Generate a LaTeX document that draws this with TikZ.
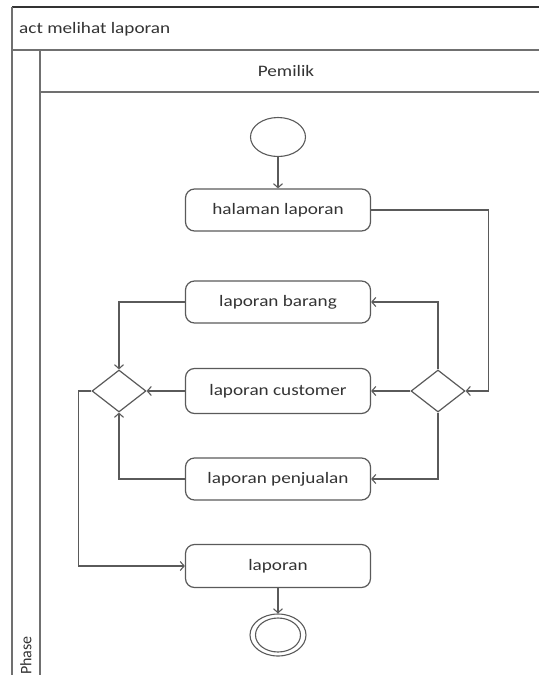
\documentclass[tikz,border=0pt]{standalone}
\usepackage{fontspec}
\setmainfont[FakeStretch=1.2]{Carlito}
\newfontfamily\phasefont{Carlito}
\usetikzlibrary{arrows.meta,shapes.geometric}
\definecolor{linec}{HTML}{5A5A5A}
\definecolor{framec}{HTML}{707070}
\definecolor{textc}{HTML}{333333}
\tikzset{
  actbox/.style={draw=linec, line width=1.2pt, rounded corners=9pt, minimum width=185pt, minimum height=42pt, text=textc, font=\fontsize{16}{19}\selectfont, inner sep=0pt},
  decis/.style={draw=linec, line width=1.2pt, diamond, minimum width=54pt, minimum height=42pt, inner sep=0pt},
  arr/.style={draw=linec, line width=1.1pt, -{Straight Barb[length=4pt,width=9pt]}},
  frameline/.style={draw=framec, line width=1.4pt},
  lbl/.style={text=textc, font=\fontsize{16}{19}\selectfont, inner sep=0pt}
}
\begin{document}
\begin{tikzpicture}[x=1pt,y=-1pt]
\useasboundingbox (0,0) rectangle (539,675);
% frame
\draw[line width=1.5pt, draw=textc] (12,7) -- (539,7);
\draw[frameline] (12,7) -- (12,676);
\draw[frameline] (12,50) -- (539,50);
\draw[frameline] (40,50) -- (40,676);
\draw[frameline] (40,92) -- (539,92);
\node[lbl, anchor=west] (title) at (19,29) {act melihat laporan};
\node[lbl] (lane) at (286,71) {Pemilik};
\node[text=textc, font=\phasefont\fontsize{16}{19}\selectfont, rotate=90, anchor=west, inner sep=0pt] (phase) at (26,675) {Phase};
% nodes
\node[draw=linec, line width=1.1pt, ellipse, minimum width=55pt, minimum height=39pt, inner sep=0pt] (init) at (278,137) {};
\node[actbox] (hal) at (278,210) {halaman laporan};
\node[actbox] (bar) at (278,302) {laporan barang};
\node[actbox, minimum height=45pt] (cus) at (278,391) {laporan customer};
\node[actbox] (pen) at (278,479) {laporan penjualan};
\node[actbox, minimum height=43pt] (lap) at (278,566) {laporan};
\node[decis] (dr) at (438,391) {};
\node[decis] (dl) at (119,391) {};
\node[draw=linec, line width=1.1pt, ellipse, minimum width=56pt, minimum height=42pt, inner sep=0pt] (fin) at (278,635) {};
\draw[draw=linec, line width=1.1pt] (fin.center) ellipse [x radius=22.5pt, y radius=17pt];
% connectors
\draw[arr] (init) -- (hal);
\draw[arr] (hal.east) -- ++(117,0) |- (dr.east);
\draw[arr] (dr.north) |- (bar.east);
\draw[arr] (dr.west) -- (cus.east);
\draw[arr] (dr.south) |- (pen.east);
\draw[arr] (bar.west) -| (dl.north);
\draw[arr] (cus.west) -- (dl.east);
\draw[arr] (pen.west) -| (dl.south);
\draw[arr] (dl.west) -- ++(-13,0) |- (lap.west);
\draw[arr] (lap) -- (fin);
\end{tikzpicture}
\end{document}
